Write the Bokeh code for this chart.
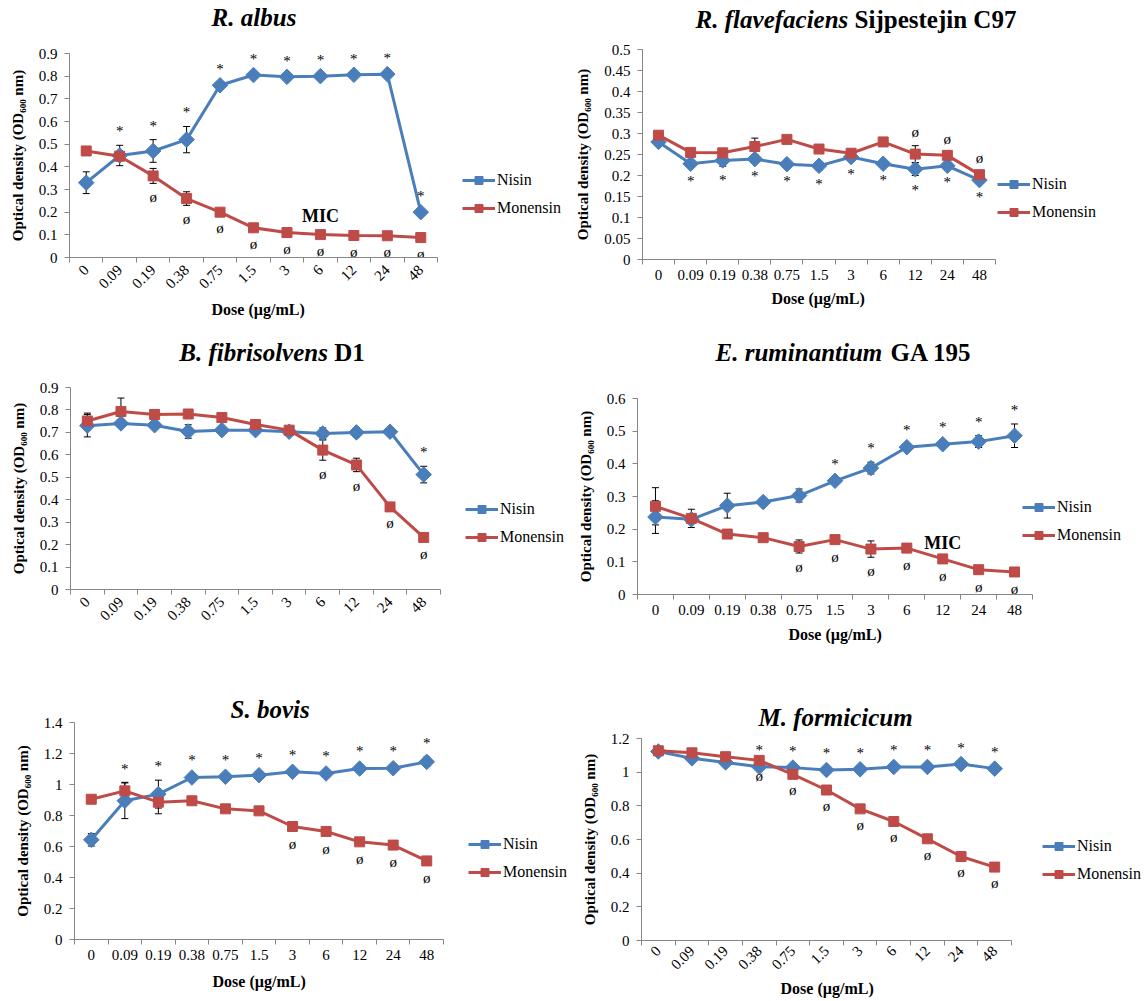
import math
from bokeh.plotting import figure
from bokeh.models import (Range1d, FixedTicker, NumeralTickFormatter, Whisker, TeeHead,
                          ColumnDataSource, Legend, LegendItem, Div, Title)
from bokeh.layouts import row, column
from bokeh.core.properties import value
from bokeh.embed import file_html
from bokeh.resources import INLINE

# ---------------- data ----------------
doses = ["0", "0.09", "0.19", "0.38", "0.75", "1.5", "3", "6", "12", "24", "48"]
series_names = ["Nisin", "Monensin"]

# R. albus
albus_nisin = [0.33, 0.45, 0.47, 0.52, 0.76, 0.805, 0.797, 0.80, 0.806, 0.809, 0.20]
albus_nisin_err = [0.048, 0.045, 0.05, 0.058, 0.01, 0.01, 0.01, 0.01, 0.01, 0.01, 0.01]
albus_mon = [0.47, 0.447, 0.36, 0.26, 0.20, 0.131, 0.11, 0.101, 0.097, 0.096, 0.088]
albus_mon_err = [0.01, 0.02, 0.033, 0.03, 0.01, 0.01, 0.01, 0.01, 0.01, 0.01, 0.01]
albus_yticks = [0, 0.1, 0.2, 0.3, 0.4, 0.5, 0.6, 0.7, 0.8, 0.9]

# R. flavefaciens Sijpestejin C97
flav_nisin = [0.28, 0.228, 0.236, 0.239, 0.227, 0.223, 0.244, 0.228, 0.215, 0.223, 0.189]
flav_nisin_err = [0.005, 0.008, 0.014, 0.008, 0.006, 0.01, 0.006, 0.006, 0.015, 0.006, 0.006]
flav_mon = [0.296, 0.255, 0.254, 0.269, 0.286, 0.263, 0.253, 0.28, 0.251, 0.248, 0.202]
flav_mon_err = [0.006, 0.006, 0.006, 0.02, 0.006, 0.006, 0.006, 0.006, 0.02, 0.006, 0.006]
flav_yticks = [0, 0.05, 0.1, 0.15, 0.2, 0.25, 0.3, 0.35, 0.4, 0.45, 0.5]

# B. fibrisolvens D1
fib_nisin = [0.73, 0.74, 0.732, 0.704, 0.71, 0.71, 0.703, 0.695, 0.70, 0.703, 0.512]
fib_nisin_err = [0.05, 0.01, 0.01, 0.03, 0.01, 0.015, 0.01, 0.025, 0.02, 0.01, 0.037]
fib_mon = [0.751, 0.793, 0.78, 0.782, 0.766, 0.735, 0.71, 0.621, 0.555, 0.368, 0.232]
fib_mon_err = [0.035, 0.06, 0.02, 0.01, 0.01, 0.01, 0.01, 0.045, 0.03, 0.01, 0.01]
fib_yticks = [0, 0.1, 0.2, 0.3, 0.4, 0.5, 0.6, 0.7, 0.8, 0.9]

# E. ruminantium GA 195
rum_nisin = [0.237, 0.23, 0.272, 0.283, 0.303, 0.348, 0.387, 0.451, 0.46, 0.468, 0.486]
rum_nisin_err = [0.05, 0.01, 0.038, 0.01, 0.02, 0.01, 0.018, 0.01, 0.01, 0.018, 0.036]
rum_mon = [0.27, 0.233, 0.185, 0.174, 0.147, 0.168, 0.139, 0.142, 0.109, 0.076, 0.069]
rum_mon_err = [0.057, 0.028, 0.01, 0.01, 0.02, 0.01, 0.025, 0.01, 0.01, 0.01, 0.01]
rum_yticks = [0, 0.1, 0.2, 0.3, 0.4, 0.5, 0.6]

# S. bovis
bov_nisin = [0.643, 0.895, 0.938, 1.045, 1.05, 1.06, 1.082, 1.071, 1.103, 1.105, 1.146]
bov_nisin_err = [0.04, 0.115, 0.09, 0.02, 0.02, 0.02, 0.02, 0.02, 0.02, 0.02, 0.03]
bov_mon = [0.905, 0.959, 0.886, 0.895, 0.843, 0.83, 0.729, 0.697, 0.63, 0.609, 0.507]
bov_mon_err = [0.02, 0.055, 0.075, 0.02, 0.02, 0.02, 0.02, 0.02, 0.02, 0.02, 0.02]
bov_yticks = [0, 0.2, 0.4, 0.6, 0.8, 1.0, 1.2, 1.4]

# M. formicicum
form_nisin = [1.123, 1.082, 1.058, 1.032, 1.027, 1.013, 1.017, 1.031, 1.031, 1.048, 1.021]
form_nisin_err = [0.02, 0.02, 0.015, 0.015, 0.015, 0.015, 0.015, 0.015, 0.015, 0.015, 0.015]
form_mon = [1.127, 1.115, 1.092, 1.07, 0.987, 0.894, 0.782, 0.707, 0.604, 0.499, 0.436]
form_mon_err = [0.01, 0.01, 0.01, 0.01, 0.01, 0.01, 0.01, 0.01, 0.01, 0.01, 0.01]
form_yticks = [0, 0.2, 0.4, 0.6, 0.8, 1.0, 1.2]

# significance marks (dose labels)
albus_star = ["0.09", "0.19", "0.38", "0.75", "1.5", "3", "6", "12", "24", "48"]
albus_phi = ["0.19", "0.38", "0.75", "1.5", "3", "6", "12", "24", "48"]
flav_star = ["0.09", "0.19", "0.38", "0.75", "1.5", "3", "6", "12", "24", "48"]
flav_phi = ["12", "24", "48"]
fib_star = ["48"]
fib_phi = ["6", "12", "24", "48"]
rum_star = ["1.5", "3", "6", "12", "24", "48"]
rum_phi = ["0.75", "1.5", "3", "6", "12", "24", "48"]
bov_star = ["0.09", "0.19", "0.38", "0.75", "1.5", "3", "6", "12", "24", "48"]
bov_phi = ["3", "6", "12", "24", "48"]
form_star = ["0.38", "0.75", "1.5", "3", "6", "12", "24", "48"]
form_phi = ["0.38", "0.75", "1.5", "3", "6", "12", "24", "48"]

# ---------------- style ----------------
FONT = "Liberation Serif"
BLUE = "#4a7ebb"
RED = "#be4b48"
AXIS_GRAY = "#868686"
Y_LABEL = "Optical density (OD\u2086\u2080\u2080 nm)"
X_LABEL = "Dose (\u00b5g/mL)"
X_LABEL_HALF_W = 47   # approx. half width of the x-axis title in px


def title_div(ital, plain, width, height, cx, cy, gap):
    plain_html = f' <span style="margin-left:{gap}px">{plain}</span>' if plain else ""
    html = (f'<div style="width:{2 * cx}px; height:{height}px; box-sizing:border-box; '
            f'padding-top:{cy - 15}px; line-height:30px; text-align:center; white-space:nowrap; '
            f'font-family:\'{FONT}\'; font-size:25px; font-weight:bold; color:black;">'
            f'<i>{ital}</i>{plain_html}</div>')
    return Div(text=html, width=width, height=height, margin=0)


def make_panel(cfg):
    # geometry: cell width/height, frame left, data-area right edge, top & bottom borders
    w, h, left, data_right, top, bottom = cfg["geom"]
    n = len(doses)
    xs = list(range(n))
    data_w = data_right - left
    # the frame reaches the right edge of the cell so the legend beside the data is drawn
    x_end = -0.5 + n * (w - left) / data_w
    p = figure(width=w, height=h, x_range=Range1d(-0.5, x_end),
               y_range=Range1d(0, cfg["yticks"][-1]),
               output_backend="svg", toolbar_location=None,
               min_border_left=left, min_border_right=0,
               min_border_top=top, min_border_bottom=bottom, margin=0)
    p.outline_line_color = None
    p.xgrid.visible = False
    p.ygrid.visible = False
    p.background_fill_alpha = 0
    p.border_fill_alpha = 0

    # axes
    xa = p.xaxis[0]
    xa.bounds = (-0.5, n - 0.5)
    xa.ticker = FixedTicker(ticks=xs, minor_ticks=[i - 0.5 for i in range(n + 1)])
    xa.major_label_overrides = {i: d for i, d in enumerate(doses)}
    xa.major_tick_line_color = None
    xa.major_tick_out = 0
    xa.major_tick_in = 0
    xa.minor_tick_line_color = AXIS_GRAY
    xa.minor_tick_out = 5
    xa.minor_tick_in = 0
    xa.axis_line_color = AXIS_GRAY
    xa.major_label_text_font = FONT
    xa.major_label_text_font_size = "15px"
    xa.major_label_text_color = "black"
    xa.major_label_standoff = cfg.get("xstandoff", 5)
    if cfg["rotate"]:
        xa.major_label_orientation = math.pi / 4

    ya = p.yaxis[0]
    ya.ticker = FixedTicker(ticks=cfg["yticks"], minor_ticks=[])
    ya.formatter = NumeralTickFormatter(format="0.[00]")
    ya.axis_line_color = AXIS_GRAY
    ya.major_tick_line_color = AXIS_GRAY
    ya.major_tick_out = 5
    ya.major_tick_in = 0
    ya.minor_tick_line_color = None
    ya.major_label_text_font = FONT
    ya.major_label_text_font_size = "15px"
    ya.major_label_text_color = "black"
    ya.major_label_standoff = 7
    ya.axis_label = Y_LABEL
    ya.axis_label_text_font = FONT
    ya.axis_label_text_font_size = "15px"
    ya.axis_label_text_font_style = "bold"
    ya.axis_label_text_color = "black"
    ya.axis_label_standoff = 10

    nis, nis_e, mon, mon_e = cfg["nisin"], cfg["nisin_err"], cfg["mon"], cfg["mon_err"]
    src = ColumnDataSource(dict(
        x=xs, nis=nis, mon=mon,
        nis_up=[a + b for a, b in zip(nis, nis_e)], nis_lo=[a - b for a, b in zip(nis, nis_e)],
        mon_up=[a + b for a, b in zip(mon, mon_e)], mon_lo=[a - b for a, b in zip(mon, mon_e)],
    ))

    for up, lo in (("nis_up", "nis_lo"), ("mon_up", "mon_lo")):
        wk = Whisker(base="x", upper=up, lower=lo, source=src, dimension="height",
                     line_color="black", line_width=1, level="underlay",
                     upper_head=TeeHead(size=7, line_color="black", line_width=1),
                     lower_head=TeeHead(size=7, line_color="black", line_width=1))
        p.add_layout(wk)

    rn_l = p.line("x", "nis", source=src, line_color=BLUE, line_width=3)
    rn_m = p.scatter("x", "nis", source=src, marker="square", angle=math.pi / 4, size=11,
                     fill_color=BLUE, line_color=BLUE)
    rm_l = p.line("x", "mon", source=src, line_color=RED, line_width=3)
    rm_m = p.scatter("x", "mon", source=src, marker="square", size=10,
                     fill_color=RED, line_color=RED)

    # significance marks
    def marks(idx_labels, base, err, side, char):
        ids = [doses.index(d) for d in idx_labels]
        ys = [base[i] + side * err[i] for i in ids]
        p.text(x=ids, y=ys, text=[char] * len(ids), text_font=value(FONT),
               text_font_size="15px", text_align="center", text_baseline="middle",
               y_offset=-14 * side, text_color="black")

    marks(cfg["star"], nis, nis_e, cfg["star_side"], "*")
    marks(cfg["phi"], mon, mon_e, cfg["phi_side"], "\u00f8")

    if cfg.get("mic"):
        mdose, my = cfg["mic"]
        p.text(x=[doses.index(mdose)], y=[my], text=["MIC"], text_font=value(FONT),
               text_font_size="18px", text_font_style="bold", text_align="center",
               text_baseline="middle", text_color="black")

    lx, ly = cfg["legend_loc"]
    legend = Legend(items=[LegendItem(label=series_names[0], renderers=[rn_l, rn_m]),
                           LegendItem(label=series_names[1], renderers=[rm_l, rm_m])],
                    location=(data_w + lx, ly), orientation="vertical",
                    glyph_width=33, glyph_height=20, label_height=20, label_standoff=2,
                    spacing=8, padding=0, margin=0, border_line_color=None,
                    background_fill_alpha=0, label_text_font=FONT,
                    label_text_font_size="16px", label_text_color="black")
    p.add_layout(legend)

    ttl = cfg.get("fig_title")
    if ttl:
        text, offset, standoff = ttl
        p.add_layout(Title(text=text, align="left", offset=offset, standoff=standoff,
                           text_font=FONT, text_font_size="25px",
                           text_font_style="bold italic", text_color="black"), "above")

    xl = cfg.get("xlabel")
    if xl:
        cx, standoff = xl
        p.add_layout(Title(text=X_LABEL, align="left", offset=cx - left - X_LABEL_HALF_W,
                           standoff=standoff, text_font=FONT, text_font_size="16px",
                           text_font_style="bold", text_color="black"), "below")
    return p


panels = [
    dict(geom=(570, 288, 69, 437, 21, 63), nisin=albus_nisin, nisin_err=albus_nisin_err,
         mon=albus_mon, mon_err=albus_mon_err, yticks=albus_yticks, rotate=True,
         star=albus_star, star_side=1, phi=albus_phi, phi_side=-1, mic=("6", 0.182),
         legend_loc=(25, 39), div=("R. albus", "", 32, 254, 18, 0), xlabel=(258, 5)),
    dict(geom=(576, 286, 72, 425, 15, 61), nisin=flav_nisin, nisin_err=flav_nisin_err,
         mon=flav_mon, mon_err=flav_mon_err, yticks=flav_yticks, rotate=False,
         star=flav_star, star_side=-1, phi=flav_phi, phi_side=1, mic=None,
         legend_loc=(2, 37), div=("R. flavefaciens", "Sijpestejin C97", 34, 286, 20, 0),
         xlabel=(248, 11)),
    dict(geom=(570, 293, 70, 440, 20, 71), nisin=fib_nisin, nisin_err=fib_nisin_err,
         mon=fib_mon, mon_err=fib_mon_err, yticks=fib_yticks, rotate=True,
         star=fib_star, star_side=1, phi=fib_phi, phi_side=-1, mic=None,
         legend_loc=(25, 42), div=("B. fibrisolvens", "D1", 47, 272, 33, 0)),
    dict(geom=(576, 293, 67, 462, 31, 66), nisin=rum_nisin, nisin_err=rum_nisin_err,
         mon=rum_mon, mon_err=rum_mon_err, yticks=rum_yticks, rotate=False,
         star=rum_star, star_side=1, phi=rum_phi, phi_side=-1, mic=("12", 0.158),
         legend_loc=(-10, 49), div=("E. ruminantium", "GA 195", 47, 273, 33, 2),
         xlabel=(265, 13)),
    dict(geom=(570, 340, 74, 443, 62, 61), nisin=bov_nisin, nisin_err=bov_nisin_err,
         mon=bov_mon, mon_err=bov_mon_err, yticks=bov_yticks, rotate=False,
         star=bov_star, star_side=1, phi=bov_phi, phi_side=-1, mic=None,
         legend_loc=(25, 57), fig_title=("S. bovis", 156, 0), xlabel=(259, 17)),
    dict(geom=(576, 340, 71, 441, 78, 60), nisin=form_nisin, nisin_err=form_nisin_err,
         mon=form_mon, mon_err=form_mon_err, yticks=form_yticks, rotate=True,
         star=form_star, star_side=1, phi=form_phi, phi_side=-1, mic=None,
         xstandoff=3, legend_loc=(31, 56), fig_title=("M. formicicum", 117, 15),
         xlabel=(257, 0)),
]

cells = []
for c in panels:
    fig = make_panel(c)
    if "div" in c:
        ital, plain, dh, cx, cy, gap = c["div"]
        cells.append(column(title_div(ital, plain, c["geom"][0], dh, cx, cy, gap), fig,
                            spacing=0, margin=0))
    else:
        cells.append(column(fig, spacing=0, margin=0))

layout = column(row(cells[0], cells[1], spacing=0, margin=0),
                row(cells[2], cells[3], spacing=0, margin=0),
                row(cells[4], cells[5], spacing=0, margin=0),
                spacing=0, margin=0)

open("out.html", "w").write(file_html(layout, INLINE))
